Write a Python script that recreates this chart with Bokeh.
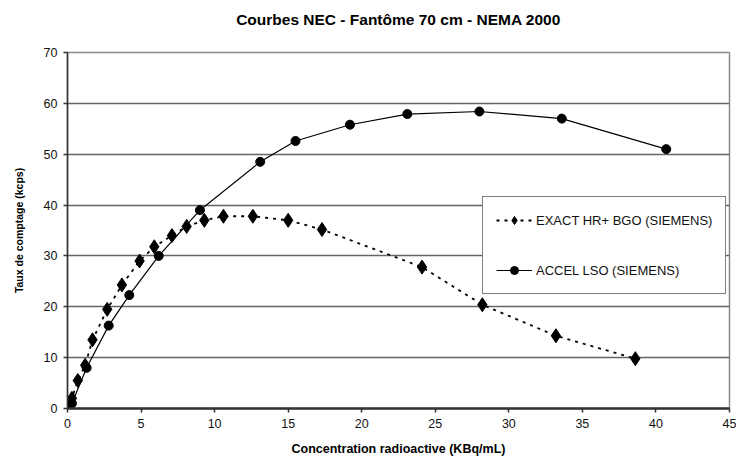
from bokeh.plotting import figure
from bokeh.models import Legend, LegendItem, FixedTicker, Range1d, Title
from bokeh.embed import file_html
from bokeh.resources import INLINE

title = "Courbes NEC - Fantôme 70 cm - NEMA 2000"
x_label = "Concentration radioactive (KBq/mL)"
y_label = "Taux de comptage (kcps)"

exact_name = "EXACT HR+ BGO (SIEMENS)"
exact_x = [0.0, 0.3, 0.7, 1.2, 1.7, 2.7, 3.7, 4.9, 5.9, 7.1, 8.1, 9.3, 10.6, 12.6, 15.0, 17.3, 24.1, 28.2, 33.2, 38.6]
exact_y = [0.0, 2.0, 5.5, 8.5, 13.5, 19.5, 24.3, 29.0, 31.8, 34.0, 35.8, 37.0, 37.8, 37.8, 37.0, 35.2, 27.8, 20.4, 14.3, 9.8]

accel_name = "ACCEL LSO (SIEMENS)"
accel_x = [0.0, 0.3, 1.3, 2.8, 4.2, 6.2, 9.0, 13.1, 15.5, 19.2, 23.1, 28.0, 33.6, 40.7]
accel_y = [0.0, 1.0, 8.0, 16.3, 22.3, 30.0, 39.0, 48.5, 52.6, 55.8, 57.9, 58.4, 57.0, 51.0]

x_ticks = [0, 5, 10, 15, 20, 25, 30, 35, 40, 45]
y_ticks = [0, 10, 20, 30, 40, 50, 60, 70]

FONT = "Liberation Sans"

p = figure(width=736, height=459, output_backend="svg", toolbar_location=None,
           x_range=Range1d(0, 45), y_range=Range1d(0, 70))
p.min_border_left = 67
p.min_border_right = 7
p.min_border_top = 52
p.min_border_bottom = 51

spacer = Title(text=" ", text_font=FONT, text_font_size="21px", standoff=0)
p.add_layout(spacer, "above")
main_title = Title(text=title, align="center", text_font=FONT, text_font_size="15.5px",
                   text_font_style="bold", text_color="black", standoff=0)
p.add_layout(main_title, "above")

p.outline_line_color = "#8a8a8a"
p.outline_line_width = 1.5

p.xaxis.ticker = FixedTicker(ticks=x_ticks)
p.yaxis.ticker = FixedTicker(ticks=y_ticks)
for ax in (p.xaxis[0], p.yaxis[0]):
    ax.major_label_text_font = FONT
    ax.major_label_text_font_size = "12.5px"
    ax.major_label_text_color = "#111111"
    ax.axis_label_text_font = FONT
    ax.axis_label_text_font_style = "bold"
    ax.axis_label_text_color = "black"
    ax.axis_line_color = "#333333"
    ax.major_tick_line_color = "#333333"
    ax.minor_tick_line_color = None
    ax.major_tick_in = 0
    ax.major_tick_out = 4
p.xaxis.axis_label = x_label
p.yaxis.axis_label = y_label
p.xaxis.axis_label_text_font_size = "12.5px"
p.yaxis.axis_label_text_font_size = "10.5px"
p.xaxis.axis_line_width = 2.5
p.yaxis.axis_line_width = 1.5
p.xaxis.major_tick_line_width = 1.5
p.yaxis.major_tick_line_width = 1.5
p.xaxis.axis_label_standoff = 11
p.yaxis.axis_label_standoff = 16
p.xaxis.major_label_standoff = 6
p.yaxis.major_label_standoff = 6

p.xgrid.grid_line_color = None
p.ygrid.grid_line_color = "#666666"
p.ygrid.grid_line_width = 1.5

l1 = p.line(exact_x, exact_y, line_color="black", line_width=1.8, line_dash="3 5")
m1 = p.scatter(exact_x, exact_y, marker="diamond", size=14, fill_color="black", line_color="black")
l2 = p.line(accel_x, accel_y, line_color="black", line_width=1.2)
m2 = p.scatter(accel_x, accel_y, marker="circle", size=9, fill_color="black", line_color="black")

legend = Legend(items=[LegendItem(label=exact_name, renderers=[l1, m1]),
                       LegendItem(label=accel_name, renderers=[l2, m2])],
                location=(415, 114))
legend.label_text_font = FONT
legend.label_text_font_size = "13px"
legend.label_text_color = "#111111"
legend.border_line_color = "black"
legend.border_line_width = 1.5
legend.background_fill_alpha = 1
legend.glyph_width = 36
legend.spacing = 30
legend.padding = 13
legend.margin = 0
legend.label_standoff = 4
p.add_layout(legend, "center")

open("out.html", "w").write(file_html(p, INLINE))
